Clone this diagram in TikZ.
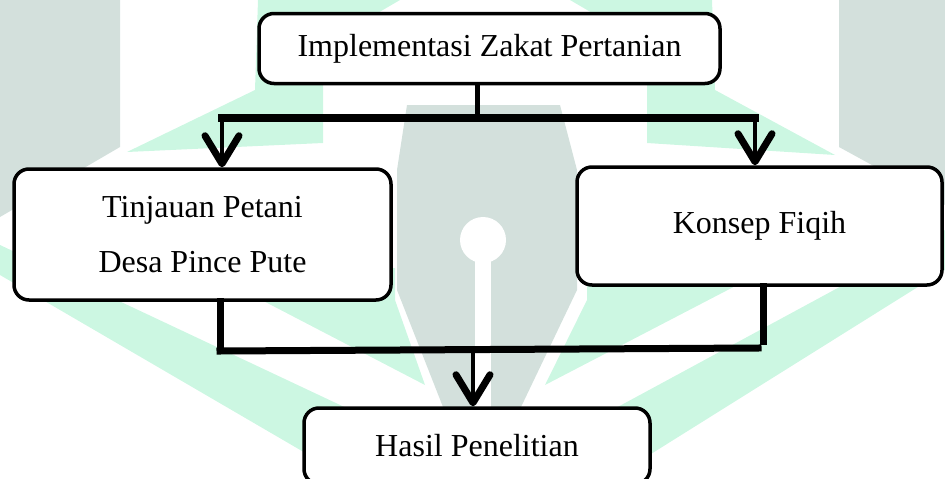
\documentclass[tikz,border=0pt]{standalone}
\usepackage{fontspec}
\setmainfont{Liberation Serif}
\usetikzlibrary{arrows.meta}
\definecolor{mint}{RGB}{204,247,226}
\definecolor{sage}{RGB}{211,224,220}

\begin{document}
\begin{tikzpicture}[x=1pt,y=-1pt]
		\tikzset{
  box/.style={
         rectangle,
         rounded corners=15pt,
         draw=black, line width=3.5pt,
         fill=white,
         inner sep=0,
         align=center,
         font=\fontsize{32}{55}\selectfont,
         },
  bar/.style={line width=7pt, line cap=rect},
  flow/.style={line width=4.5pt,
         -{Straight Barb[length=28pt,width=34pt,line width=7pt,round]}},
}

    \useasboundingbox (0,0) rectangle (945,479);
    \clip (0,0) rectangle (945,479);

    % watermark
    \fill[sage] (0,0) -- (120,0) -- (120,147) -- (0,217) -- cycle;
    \fill[sage] (839,0) -- (945,0) -- (945,205) -- (839,147) -- cycle;
    \fill[sage] (407,105) -- (560,105) -- (577,170) -- (577,290) -- (521,407)
      -- (482,505) -- (443,407) -- (397,290) -- (397,170) -- cycle;
    \fill[white] (483,240) circle[radius=23];
    \fill[white] (475,240) rectangle (491,479);
    \fill[mint] (258,0) -- (400,0) -- (323,45) -- (323,143) -- (127,152)
      -- (255,90) -- cycle;
    \fill[mint] (712,0) -- (570,0) -- (647,45) -- (647,143) -- (835,155)
      -- (715,90) -- cycle;
    \fill[mint] (0,245) -- (440,452) -- (455,479) -- (350,479) -- (0,275) -- cycle;
    \fill[mint] (945,230) -- (540,449) -- (500,479) -- (611,479) -- (945,270) -- cycle;
    \fill[mint] (200,268) -- (395,268) -- (395,300) -- (425,385) -- cycle;
    \fill[mint] (770,268) -- (587,268) -- (587,300) -- (545,385) -- cycle;

    \node[box, minimum width=461pt, minimum height=70pt] (impl)
      at (489.5,48.5) {Implementasi Zakat Pertanian};

    \node[box, minimum width=377pt, minimum height=131pt] (tinjauan)
      at (202.5,234.5) {Tinjauan Petani\\Desa Pince Pute};

    \node[box, minimum width=365pt, minimum height=118pt] (konsep)
      at (759.5,226) {Konsep Fiqih};

    \node[box, minimum width=346pt, minimum height=76pt] (hasil)
      at (477,446) {Hasil Penelitian};

    \coordinate (split) at (477,118);
    \coordinate (splitl) at (222,118);
    \coordinate (splitr) at (755,118);
    \coordinate (joinl) at (220,351);
    \coordinate (joinr) at (758,348);
    \coordinate (stemr) at (763,341);
    \coordinate (join) at (473,350);

    \draw[bar, line width=5pt] (impl.south -| split) -- (split);
    \draw[bar, line width=8pt] (splitl) -- (splitr);
    \draw[flow] (splitl) -- (splitl |- tinjauan.north);
    \draw[flow] (splitr) -- (splitr |- konsep.north);

    \draw[bar] (tinjauan.south -| joinl) -- ([yshift=4pt]joinl);
    \draw[bar] (konsep.south -| stemr) -- (stemr);
    \draw[bar] (joinl) -- (joinr);
    \draw[flow] (join) -- (join |- hasil.north);

	\end{tikzpicture}
\end{document}
